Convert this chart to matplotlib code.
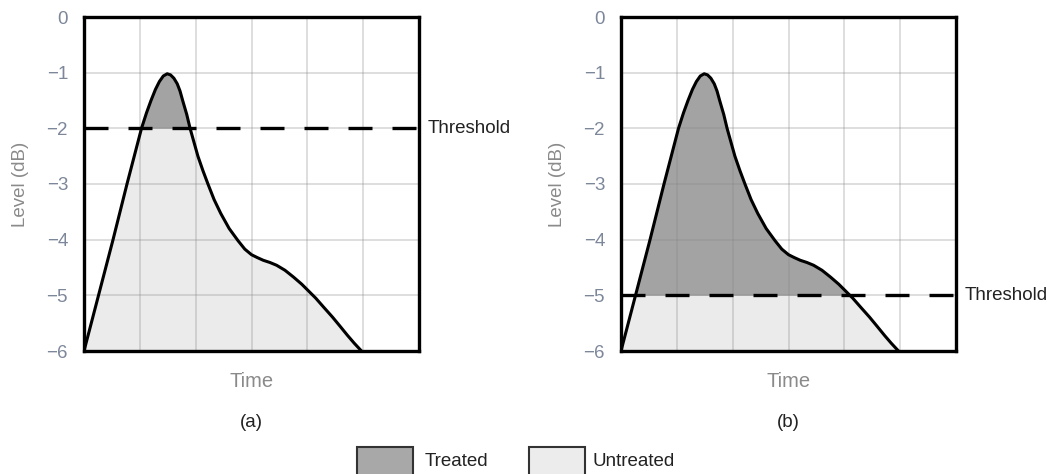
import matplotlib
matplotlib.use("Agg")
import matplotlib.pyplot as plt
import numpy as np
from matplotlib.patches import Rectangle

plt.rcParams['font.family'] = ['Liberation Sans', 'DejaVu Sans']

# ---- data ----
time_pts = [0, 0.26, 0.52, 0.77, 0.9, 1.03, 1.12, 1.2, 1.28, 1.35, 1.42, 1.49, 1.55,
            1.61, 1.67, 1.72, 1.77, 1.84, 1.9, 1.97, 2.04, 2.13, 2.22, 2.33, 2.45, 2.6,
            2.76, 2.88, 3.0, 3.1, 3.21, 3.33, 3.45, 3.6, 3.75, 3.9, 4.02, 4.15, 4.29,
            4.45, 4.59, 4.72, 4.84, 4.97]
level_pts = [-6, -5, -4, -3, -2.5, -2, -1.72, -1.5, -1.3, -1.16, -1.06, -1.02, -1.04,
             -1.1, -1.2, -1.33, -1.51, -1.75, -2, -2.25, -2.5, -2.76, -3.0, -3.28, -3.53,
             -3.8, -4.02, -4.17, -4.27, -4.32, -4.37, -4.41, -4.46, -4.55, -4.67, -4.8,
             -4.92, -5.05, -5.21, -5.39, -5.56, -5.72, -5.86, -6]
thresholds = [-2, -5]
panel_labels = ['(a)', '(b)']
y_ticks = [0, -1, -2, -3, -4, -5, -6]

TREATED = '#a3a3a3'
UNTREATED = '#ebebeb'
TICK_COL = '#7d879a'
LABEL_COL = '#8a8a8a'
TEXT_COL = '#222222'

W, H = 1055, 474
fig = plt.figure(figsize=(W / 100, H / 100), dpi=100)

x = np.array(time_pts)
y = np.array(level_pts)

for i, (thr, lab) in enumerate(zip(thresholds, panel_labels)):
    left = [84, 621][i]
    ax = fig.add_axes([left / W, 1 - 351 / H, 335 / W, 334 / H])

    # ---- fills ----
    ax.fill_between(x, -6, np.minimum(y, thr), color=UNTREATED, lw=0)
    ax.fill_between(x, thr, y, where=y > thr, interpolate=True, color=TREATED, lw=0)

    # ---- curve + threshold ----
    ax.plot(x, y, color='black', lw=2.2, solid_joinstyle='round', zorder=3)
    ax.axhline(thr, color='black', lw=2.4, dashes=(7.2, 6.0), zorder=3)
    ax.text(1.027, thr, 'Threshold', transform=ax.get_yaxis_transform(),
            ha='left', va='center', fontsize=13.5, color=TEXT_COL)

    ax.set_xlim(0, 6)
    ax.set_ylim(-6, 0)
    ax.set_xticks(range(7))
    ax.set_xticklabels([])
    ax.set_yticks(y_ticks)
    ax.set_yticklabels(['0' if t == 0 else '\u2212%d' % abs(t) for t in y_ticks])
    ax.tick_params(length=0, pad=11.5, labelsize=13.5, labelcolor=TICK_COL)
    ax.grid(True, color='#888888', alpha=0.3, lw=1.3)
    for s in ax.spines.values():
        s.set_linewidth(2.4)
        s.set_color('black')
        s.set_zorder(4)

    ax.set_ylabel('Level (dB)', fontsize=13.5, color=LABEL_COL)
    ax.yaxis.set_label_coords(-0.19, 0.5)
    ax.yaxis.label.set_va('center')
    ax.set_xlabel('Time', fontsize=14.5, color=LABEL_COL)
    ax.xaxis.set_label_coords(0.5, -0.09)
    ax.xaxis.label.set_va('center')

    ax.text(0.5, -0.2126, lab, transform=ax.transAxes, ha='center', va='center',
            fontsize=13.5, color=TEXT_COL)

# ---- legend ----
for px, col, txt, tx in [(357, '#a8a8a8', 'Treated', 425), (529, '#ececec', 'Untreated', 593)]:
    fig.add_artist(Rectangle((px / W, -0.02), 56 / W, 0.02 + 1 - 447 / H,
                             transform=fig.transFigure, facecolor=col,
                             edgecolor='#333333', lw=1.5))
    fig.text(tx / W, 1 - 462 / H, txt, ha='left', va='center', fontsize=13.5, color=TEXT_COL)

fig.savefig('out.png', dpi=100)
